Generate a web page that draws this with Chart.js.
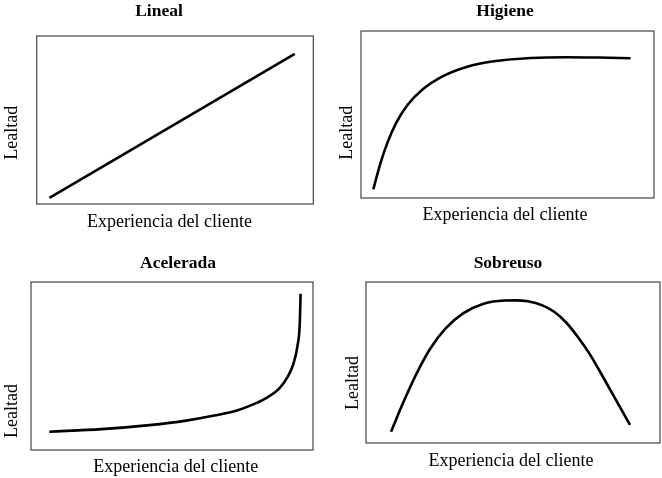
<!DOCTYPE html>
<html>
<head>
<meta charset="utf-8">
<script src="https://cdn.jsdelivr.net/npm/chart.js@4/dist/chart.umd.min.js"></script>
<style>
  body { margin: 0; background: #fff; }
  #wrap { position: relative; width: 662px; height: 478px; }
  .panel { position: absolute; width: 331px; height: 239px; }
</style>
</head>
<body>
<div id="wrap">
  <div class="panel" style="left:0;top:0"><canvas id="cLineal" width="331" height="239"></canvas></div>
  <div class="panel" style="left:331px;top:0"><canvas id="cHigiene" width="331" height="239"></canvas></div>
  <div class="panel" style="left:0;top:239px"><canvas id="cAcelerada" width="331" height="239"></canvas></div>
  <div class="panel" style="left:331px;top:239px"><canvas id="cSobreuso" width="331" height="239"></canvas></div>
</div>
<script>
'use strict';

// ── datos (escala 0–100 en ambos ejes) ─────────────────────────────────────
const X_LABEL = 'Experiencia del cliente';
const Y_LABEL = 'Lealtad';
const TITLES  = ['Lineal', 'Higiene', 'Acelerada', 'Sobreuso'];

const LINEAL_X = [4.6, 93.3];
const LINEAL_Y = [3.6, 89.3];

const HIGIENE_X = [4.2, 6.5, 9, 12, 16, 21, 28, 36, 46, 58, 70, 81, 92];
const HIGIENE_Y = [5.2, 20, 33, 45, 56, 65, 73, 78.5, 82, 83.8, 84.3, 84.1, 83.7];

const ACELERADA_X = [6.5, 25, 42, 55, 65, 73, 79, 84, 88, 91, 93, 94.5, 95.3, 95.6];
const ACELERADA_Y = [10.9, 12.4, 14.8, 17.5, 20.5, 23.5, 27.3, 31.5, 36.5, 43.5, 51, 62, 75, 93];

const SOBREUSO_X = [8.5, 13, 18, 22, 27, 33, 40, 47, 51, 55, 60, 64, 68, 72, 76, 80, 84, 89.8];
const SOBREUSO_Y = [7, 26.5, 46, 59, 71, 80.5, 86.5, 88.5, 88.6, 88, 85.5, 81.5, 75, 66, 55.5, 43, 30, 11.2];

// ── marco + textos ─────────────────────────────────────────────────────────
const frameText = {
  id: 'frameText',
  afterDraw(chart, args, o) {
    const { ctx, chartArea: a } = chart;
    ctx.save();
    ctx.strokeStyle = '#444';
    ctx.lineWidth = 1.2;
    ctx.strokeRect(a.left, a.top, a.right - a.left, a.bottom - a.top);

    ctx.fillStyle = '#000';
    ctx.textAlign = 'center';
    ctx.textBaseline = 'alphabetic';
    ctx.font = 'bold 17.5px "Liberation Serif", "Times New Roman", serif';
    ctx.fillText(o.title, o.tx, o.ty);

    ctx.font = '18px "Liberation Serif", "Times New Roman", serif';
    ctx.fillText(X_LABEL, o.xx, o.xy);

    ctx.translate(o.yx, o.yy);
    ctx.rotate(-Math.PI / 2);
    ctx.fillText(Y_LABEL, 0, 0);
    ctx.restore();
  }
};

function makeChart(id, xs, ys, pad, txt, smooth) {
  return new Chart(document.getElementById(id), {
    type: 'line',
    data: {
      datasets: [{
        data: xs.map((x, i) => ({ x, y: ys[i] })),
        borderColor: '#000',
        borderWidth: 2.6,
        pointRadius: 0,
        fill: false,
        cubicInterpolationMode: smooth ? 'monotone' : 'default',
        tension: 0,
      }],
    },
    options: {
      responsive: false,
      animation: false,
      layout: { padding: pad },
      plugins: { legend: { display: false }, tooltip: { enabled: false }, frameText: txt },
      scales: {
        x: { type: 'linear', min: 0, max: 100, display: false },
        y: { type: 'linear', min: 0, max: 100, display: false },
      },
    },
    plugins: [frameText],
  });
}

makeChart('cLineal', LINEAL_X, LINEAL_Y,
  { left: 36.7, top: 36, right: 17.7, bottom: 35 },
  { title: TITLES[0], tx: 159, ty: 16, xx: 169.5, xy: 227, yx: 16.7, yy: 132.7 }, false);

makeChart('cHigiene', HIGIENE_X, HIGIENE_Y,
  { left: 30, top: 31, right: 8, bottom: 41 },
  { title: TITLES[1], tx: 174, ty: 16, xx: 174, xy: 220, yx: 20.5, yy: 132.7 }, true);

makeChart('cAcelerada', ACELERADA_X, ACELERADA_Y,
  { left: 31, top: 43, right: 18, bottom: 28 },
  { title: TITLES[2], tx: 178, ty: 29.3, xx: 175.8, xy: 232.5, yx: 16.5, yy: 172 }, true);

makeChart('cSobreuso', SOBREUSO_X, SOBREUSO_Y,
  { left: 35, top: 43, right: 2, bottom: 35 },
  { title: TITLES[3], tx: 177, ty: 28.7, xx: 180, xy: 226.7, yx: 26.5, yy: 144 }, true);
</script>
</body>
</html>
